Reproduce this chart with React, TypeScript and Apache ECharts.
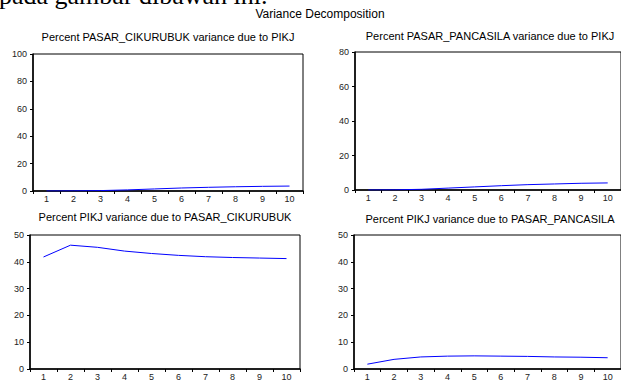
import React, { useEffect, useRef } from "react";
import * as echarts from "echarts";

const categories = ["1", "2", "3", "4", "5", "6", "7", "8", "9", "10"];
const cikurubukDueToPikj = [0, 0.1, 0.3, 0.8, 1.5, 2.2, 2.7, 3.1, 3.4, 3.6];
const pancasilaDueToPikj = [0, 0.1, 0.4, 1.1, 1.8, 2.5, 3.1, 3.5, 3.9, 4.1];
const pikjDueToCikurubuk = [41.8, 46.2, 45.4, 44.0, 43.1, 42.4, 41.9, 41.6, 41.4, 41.2];
const pikjDueToPancasila = [1.8, 3.6, 4.5, 4.8, 4.9, 4.8, 4.7, 4.5, 4.4, 4.2];

const panelTitles = [
  "Percent PASAR_CIKURUBUK variance due to PIKJ",
  "Percent PASAR_PANCASILA variance due to PIKJ",
  "Percent PIKJ variance due to PASAR_CIKURUBUK",
  "Percent PIKJ variance due to PASAR_PANCASILA",
];
const panelSeries = [cikurubukDueToPikj, pancasilaDueToPikj, pikjDueToCikurubuk, pikjDueToPancasila];
const yMaxes = [100, 80, 50, 50];
const yIntervals = [20, 20, 10, 10];

const grids = [
  { left: 33, top: 54, width: 270, height: 137 },
  { left: 355, top: 52, width: 271, height: 138 },
  { left: 30, top: 235, width: 270, height: 137 },
  { left: 354, top: 235, width: 272, height: 137 },
];
const titlePos = [
  { x: 168, y: 31 },
  { x: 490, y: 30 },
  { x: 165, y: 211 },
  { x: 490, y: 213 },
];

const FONT = "Liberation Sans, Arial, sans-serif";

export default function App() {
  const ref = useRef<HTMLDivElement>(null);
  useEffect(() => {
    if (!ref.current) return;
    const chart = echarts.init(ref.current, undefined, { renderer: "svg" });
    const option: any = {
      animation: false,
      backgroundColor: "#ffffff",
      title: [
        {
          text: "Variance Decomposition",
          left: 320,
          top: 8,
          textAlign: "center",
          padding: 0,
          textStyle: { fontFamily: FONT, fontSize: 12, fontWeight: "normal", color: "#000" },
        },
        ...panelTitles.map((t, i) => ({
          text: t,
          left: titlePos[i].x,
          top: titlePos[i].y,
          textAlign: "center",
          padding: 0,
          textStyle: { fontFamily: FONT, fontSize: 11, fontWeight: "normal", color: "#000" },
        })),
      ],
      graphic: [
        {
          type: "text",
          left: -1,
          top: -18,
          style: {
            text: "pada gambar dibawah ini.",
            font: "26px 'Liberation Serif', 'Times New Roman', serif",
            fill: "#000",
          },
        },
      ],
      grid: grids.map((g) => ({
        ...g,
        show: true,
        borderColor: "#000",
        borderWidth: 1,
        backgroundColor: "transparent",
        containLabel: false,
      })),
      xAxis: grids.map((_, i) => ({
        type: "category",
        gridIndex: i,
        data: categories,
        boundaryGap: true,
        axisLine: { lineStyle: { color: "#000", width: 1.5 } },
        axisTick: { show: true, inside: false, length: 3, lineStyle: { color: "#000" } },
        axisLabel: { interval: 0, fontSize: 9, fontFamily: FONT, color: "#222", margin: 3 },
        splitLine: { show: false },
      })),
      yAxis: grids.map((_, i) => ({
        type: "value",
        gridIndex: i,
        min: 0,
        max: yMaxes[i],
        interval: yIntervals[i],
        axisLine: { show: true, lineStyle: { color: "#000", width: 1.5 } },
        axisTick: { show: true, inside: false, length: 3, lineStyle: { color: "#000" } },
        axisLabel: { fontSize: 9, fontFamily: FONT, color: "#222", margin: 6 },
        splitLine: { show: false },
      })),
      series: panelSeries.map((d, i) => ({
        type: "line",
        xAxisIndex: i,
        yAxisIndex: i,
        data: d,
        showSymbol: false,
        symbol: "none",
        lineStyle: { color: "#0000ff", width: 1 },
        itemStyle: { color: "#0000ff" },
      })),
    };
    chart.setOption(option);
    return () => chart.dispose();
  }, []);
  return (
    <div
      ref={ref}
      style={{ position: "fixed", left: 0, top: 0, width: 621, height: 381, background: "#fff" }}
    />
  );
}
